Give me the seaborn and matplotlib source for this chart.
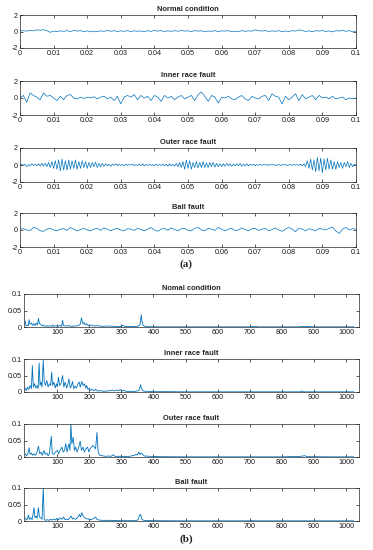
import numpy as np
import pandas as pd
import seaborn as sns
from matplotlib import pyplot as plt

sns.set_style("ticks")
plt.rcParams['font.family'] = ['Liberation Sans', 'DejaVu Sans']

titles = ['Normal condition', 'Inner race fault', 'Outer race fault', 'Ball fault']
spec_titles = ['Nomal condition', 'Inner race fault', 'Outer race fault', 'Ball fault']

# time-domain signals (0.1 s windows)
normal_sig = [0.05, 0.1, 0.05, 0.12, 0.08, 0.2, 0.15, 0.22, 0.1, -0.1, 0.05,
              0.0, 0.08, 0.02, 0.1, 0.0, 0.12, 0.05, 0.1, -0.02, 0.08,
              -0.05, 0.05, 0.0, 0.08, 0.02, 0.12, 0.03, 0.1, 0.0, 0.08,
              0.02, 0.1, 0.0, 0.08, 0.03, 0.06, -0.02, 0.1, 0.02, 0.12,
              0.05, 0.1, 0.0, 0.08, 0.02, 0.1, 0.03, 0.12, 0.05, 0.08,
              0.0, 0.1, 0.05, 0.08, 0.0, 0.06, 0.02, 0.1, -0.02, 0.08,
              0.05, 0.1, -0.03, 0.05, 0.0, 0.1, 0.02, 0.08, 0.05, 0.2,
              0.1, 0.05, 0.12, 0.0, 0.08, 0.02, 0.1, -0.02, 0.06, 0.0,
              0.1, 0.05, 0.2, 0.12, 0.0, 0.08, -0.03, 0.1, 0.05, 0.12,
              0.0, 0.08, -0.05, 0.1, 0.05, 0.15, 0.02, 0.1, -0.05, 0.05]

inner_sig = [0.0, 0.3, -0.5, 0.6, 0.3, 0.1, -0.2, 0.6, 0.2, 0.3, 0.0,
             -0.3, 0.2, -0.2, 0.3, 0.4, 0.0, -0.1, 0.1, -0.05, 0.1,
             0.0, 0.15, -0.1, 0.1, 0.2, -0.1, 0.1, -0.3, 0.2, -0.7,
             0.1, 0.3, 0.1, 0.4, -0.2, 0.3, 0.0, 0.2, -0.3, 0.3,
             0.1, -0.4, 0.3, 0.0, 0.2, -0.2, 0.1, 0.3, -0.1, 0.1,
             0.3, -0.3, 0.4, 0.7, 0.2, -0.4, 0.3, 0.1, -0.6, 0.1,
             0.0, 0.2, -0.1, -0.2, 0.1, 0.3, -0.1, -0.3, 0.2, 0.0,
             -0.1, 0.2, 0.3, -0.3, 0.5, 0.2, 0.1, -0.7, 0.2, -0.2,
             0.1, 0.5, -0.3, 0.4, -0.1, 0.1, 0.3, -0.2, 0.3, 0.0,
             0.1, -0.1, 0.2, -0.1, 0.0, 0.1, -0.2, 0.0, -0.1, 0.0]

outer_sig = [0.0, 0.1, -0.05, 0.1, -0.2, 0.05, -0.1, 0.15, -0.05, 0.1, -0.1, 0.15, -0.1, 0.2, -0.15, 0.2, -0.2,
             0.3, -0.3, 0.4, -0.4, 0.5, -0.5, 0.6, -0.7, 0.7, -0.6, 0.5, -0.6, 0.6, -0.5, 0.5, -0.4, 0.6,
             -0.5, 0.4, -0.4, 0.5, -0.3, 0.4, -0.4, 0.3, -0.3, 0.3, -0.2, 0.35, -0.3, 0.2, -0.25, 0.2, -0.15,
             0.15, -0.1, 0.1, -0.15, 0.1, -0.05, 0.15, -0.1, 0.1, -0.05, 0.05, -0.1, 0.1, -0.05, 0.05, 0.0,
             0.1, -0.1, 0.05, -0.05, 0.1, -0.1, 0.15, -0.1, 0.05, -0.05, 0.1, -0.05, 0.05, -0.1, 0.1, -0.05,
             0.05, -0.05, 0.1, -0.1, 0.1, -0.15, 0.15, -0.1, 0.1, -0.15, 0.2, -0.2,
             0.3, -0.3, 0.4, -0.5, 0.6, -0.4, 0.5, -0.5, 0.3, -0.3, 0.4, -0.35, 0.3, -0.3, 0.4, -0.3,
             0.25, -0.3, 0.3, -0.2, 0.3, -0.25, 0.2, -0.2, 0.15, -0.2,
             0.15, -0.15, 0.2, -0.1, 0.15, -0.15, 0.1, -0.1, 0.15, -0.1, 0.2, -0.15, 0.1, -0.1, 0.15, -0.1,
             0.1, -0.05, 0.1, -0.1, 0.05, -0.05, 0.1, -0.05, 0.05, 0.0, 0.05, -0.05, 0.05, 0.0, 0.05, -0.05,
             0.0, 0.05, -0.05, 0.05, 0.0, 0.05, -0.05, 0.0, 0.05, -0.05, 0.05, 0.0, 0.05, -0.05, 0.1, -0.1,
             0.15, -0.2,
             0.5, -0.4, 0.7, -0.6, 0.6, -0.8, 0.9, -0.7, 0.8, -0.9, 0.7, -0.6, 0.8, -0.5, 0.6, -0.5,
             0.4, -0.5, 0.4, -0.3, 0.3, -0.4, 0.3, -0.2, 0.4, -0.3, 0.2, -0.2, 0.1, 0.0]

ball_sig = [0.1, 0.15, 0.0, -0.05, 0.3, 0.2, -0.1, -0.15, 0.1, 0.2, 0.0,
            -0.1, 0.1, 0.15, -0.05, 0.3, 0.1, -0.1, 0.05, 0.2, 0.0,
            -0.1, 0.1, 0.2, -0.05, 0.25, 0.1, -0.1, 0.1, 0.2, 0.0,
            -0.1, 0.15, 0.1, -0.05, 0.2, 0.05, -0.1, 0.1, 0.3, 0.0,
            -0.15, 0.1, 0.2, -0.05, 0.25, 0.05, -0.1, 0.15, 0.2, -0.05,
            -0.1, 0.2, 0.3, 0.0, -0.1, 0.2, 0.1, -0.05, 0.3, 0.1,
            -0.1, 0.1, 0.2, -0.1, 0.0, 0.25, 0.05, -0.1, 0.15, 0.2,
            -0.05, 0.1, 0.2, -0.1, 0.05, 0.25, 0.0, -0.15, 0.1, 0.3,
            0.1, -0.2, 0.2, 0.1, -0.1, 0.15, 0.05, -0.1, 0.2, 0.1,
            0.0, 0.2, 0.35, -0.1, -0.4, 0.1, 0.3, 0.0, 0.15, 0.1]

# spectra: (bin, amplitude)
normal_spec = [(1, 0.018), (3, 0.004), (7, 0.006), (10, 0.003), (13, 0.022), (16, 0.008), (20, 0.012),
               (24, 0.005), (27, 0.010), (31, 0.004), (35, 0.012), (39, 0.006), (42, 0.026), (45, 0.010),
               (49, 0.008), (53, 0.003), (57, 0.006), (62, 0.002), (67, 0.004), (72, 0.002), (78, 0.004),
               (84, 0.002), (86, 0.006), (90, 0.002), (96, 0.004), (102, 0.002), (108, 0.005), (114, 0.002),
               (117, 0.020), (120, 0.004), (128, 0.003), (136, 0.004), (145, 0.002), (155, 0.003), (165, 0.004),
               (172, 0.008), (176, 0.028), (180, 0.010), (184, 0.014), (188, 0.006), (192, 0.010), (197, 0.004),
               (205, 0.006), (215, 0.003), (225, 0.004), (240, 0.002), (260, 0.003), (280, 0.002), (300, 0.001),
               (304, 0.005), (310, 0.002), (330, 0.001), (350, 0.002), (358, 0.006), (362, 0.037), (364, 0.020),
               (368, 0.004), (380, 0.001), (420, 0.0005), (500, 0.0005), (600, 0.0005), (700, 0.0005),
               (720, 0.0025), (724, 0.0005), (760, 0.0005), (850, 0.0005), (886, 0.002), (890, 0.0005),
               (950, 0.0005), (1024, 0.0005)]

inner_spec = [(1, 0.012), (4, 0.004), (8, 0.015), (12, 0.008), (16, 0.02), (20, 0.01), (23, 0.08), (26, 0.015),
              (30, 0.025), (34, 0.012), (38, 0.02), (41, 0.01), (44, 0.088), (47, 0.02), (50, 0.03), (53, 0.015),
              (57, 0.096), (60, 0.03), (64, 0.02), (68, 0.035), (72, 0.015), (76, 0.025), (80, 0.02), (83, 0.06),
              (86, 0.02), (90, 0.03), (94, 0.012), (98, 0.025), (101, 0.015), (104, 0.045), (108, 0.02),
              (112, 0.025), (117, 0.05), (121, 0.015), (125, 0.03), (130, 0.012), (134, 0.025), (137, 0.04),
              (141, 0.012), (145, 0.02), (148, 0.032), (152, 0.01), (156, 0.018), (160, 0.012), (165, 0.025),
              (169, 0.03), (172, 0.015), (177, 0.032), (181, 0.02), (185, 0.025), (189, 0.012), (192, 0.02),
              (196, 0.008), (200, 0.012), (205, 0.005), (210, 0.008), (215, 0.004), (220, 0.008), (226, 0.003),
              (235, 0.004), (245, 0.002), (255, 0.003), (265, 0.004), (272, 0.006), (278, 0.003), (285, 0.006),
              (290, 0.004), (296, 0.007), (302, 0.003), (308, 0.005), (315, 0.002), (330, 0.002), (345, 0.002),
              (355, 0.005), (360, 0.022), (363, 0.01), (368, 0.003), (380, 0.002), (400, 0.001), (450, 0.001),
              (500, 0.0005), (600, 0.0005), (700, 0.0005), (800, 0.0005), (855, 0.0005), (862, 0.003),
              (868, 0.0005), (950, 0.0005), (1024, 0.0005)]

outer_spec = [(1, 0.01), (5, 0.003), (9, 0.01), (13, 0.028), (16, 0.008), (20, 0.012), (24, 0.005), (28, 0.01),
              (32, 0.005), (36, 0.01), (42, 0.033), (46, 0.01), (50, 0.015), (54, 0.005), (59, 0.02), (63, 0.008),
              (68, 0.012), (72, 0.004), (76, 0.01), (82, 0.063), (85, 0.01), (90, 0.008), (95, 0.015), (101, 0.02),
              (105, 0.01), (110, 0.022), (115, 0.03), (119, 0.015), (123, 0.02), (127, 0.04), (131, 0.015),
              (134, 0.03), (137, 0.04), (140, 0.02), (143, 0.1), (146, 0.04), (150, 0.06), (154, 0.02),
              (158, 0.03), (162, 0.015), (166, 0.025), (172, 0.048), (176, 0.02), (181, 0.03), (185, 0.015),
              (190, 0.025), (195, 0.03), (199, 0.015), (203, 0.025), (207, 0.03), (212, 0.035), (216, 0.03),
              (220, 0.025), (224, 0.074), (228, 0.015), (232, 0.006), (240, 0.004), (250, 0.002), (260, 0.003),
              (268, 0.002), (275, 0.007), (280, 0.002), (300, 0.002), (320, 0.001), (340, 0.005), (346, 0.008),
              (350, 0.006), (354, 0.015), (358, 0.007), (362, 0.012), (366, 0.008), (372, 0.003), (390, 0.002),
              (420, 0.001), (500, 0.0005), (600, 0.0005), (700, 0.0005), (800, 0.0005), (860, 0.002),
              (870, 0.004), (880, 0.001), (950, 0.0005), (1024, 0.0005)]

ball_spec = [(1, 0.008), (5, 0.003), (8, 0.008), (11, 0.018), (14, 0.005), (18, 0.01), (22, 0.004), (25, 0.02),
             (28, 0.04), (31, 0.01), (35, 0.015), (38, 0.008), (42, 0.04), (45, 0.012), (49, 0.01), (53, 0.005),
             (57, 0.1), (60, 0.005), (65, 0.002), (70, 0.004), (75, 0.002), (80, 0.005), (85, 0.003), (90, 0.006),
             (95, 0.003), (100, 0.008), (105, 0.004), (110, 0.01), (115, 0.005), (120, 0.012), (125, 0.004),
             (130, 0.006), (135, 0.004), (140, 0.01), (144, 0.015), (148, 0.006), (152, 0.008), (158, 0.005),
             (163, 0.01), (167, 0.015), (170, 0.02), (173, 0.012), (177, 0.025), (181, 0.015), (185, 0.01),
             (190, 0.008), (195, 0.006), (200, 0.005), (205, 0.004), (210, 0.006), (215, 0.008), (220, 0.012),
             (224, 0.005), (230, 0.003), (240, 0.002), (260, 0.002), (300, 0.001), (340, 0.001), (352, 0.003),
             (357, 0.018), (360, 0.02), (364, 0.005), (370, 0.002), (400, 0.001), (500, 0.0005), (700, 0.0005),
             (705, 0.0015), (710, 0.0005), (900, 0.0005), (1024, 0.0005)]

time_ticks = [0, 0.01, 0.02, 0.03, 0.04, 0.05, 0.06, 0.07, 0.08, 0.09, 0.1]
time_labels = ['0', '0.01', '0.02', '0.03', '0.04', '0.05', '0.06', '0.07', '0.08', '0.09', '0.1']
freq_ticks = [100, 200, 300, 400, 500, 600, 700, 800, 900, 1000]

blue = '#0072BD'
W, H = 373, 550
fig = plt.figure(figsize=(W / 100, H / 100), dpi=100)


def make_ax(left, right, top, bottom):
    ax = fig.add_axes([left / W, 1 - bottom / H, (right - left) / W, (bottom - top) / H])
    for s in ax.spines.values():
        s.set_linewidth(0.5)
        s.set_color('#262626')
    ax.tick_params(direction='in', length=2, width=0.5, top=True, right=True,
                   labelsize=5.2, pad=1.5, colors='#1a1a1a')
    return ax


def style_title(ax, txt):
    ax.set_title(txt, fontsize=5.4, fontweight='bold', pad=3)
    ax.set_xlabel('')
    ax.set_ylabel('')


top_boxes = [(15, 48), (81, 115), (148, 182), (213, 247)]
signals = [normal_sig, inner_sig, outer_sig, ball_sig]
for (y0, y1), sig, ttl in zip(top_boxes, signals, titles):
    ax = make_ax(20, 356, y0, y1)
    t = np.linspace(0, 0.1, len(sig))
    df = pd.DataFrame({'t': t, 'v': sig})
    sns.lineplot(data=df, x='t', y='v', ax=ax, color=blue, lw=0.5, sort=False)
    ax.set_xlim(0, 0.1)
    ax.set_ylim(-2, 2)
    ax.set_xticks(time_ticks)
    ax.set_xticklabels(time_labels)
    ax.set_yticks([-2, 0, 2])
    ax.set_yticklabels(['-2', '0', '2'])
    style_title(ax, ttl)

bot_boxes = [(294, 327), (359, 392), (424, 457), (488, 521)]
spectra = [normal_spec, inner_spec, outer_spec, ball_spec]
for (y0, y1), spec, ttl in zip(bot_boxes, spectra, spec_titles):
    ax = make_ax(24, 359, y0, y1)
    df = pd.DataFrame(spec, columns=['f', 'a'])
    sns.lineplot(data=df, x='f', y='a', ax=ax, color=blue, lw=0.6, sort=False)
    ax.set_xlim(-3, 1040)
    ax.set_ylim(0, 0.1)
    ax.set_xticks(freq_ticks)
    ax.set_yticks([0, 0.05, 0.1])
    ax.set_yticklabels(['0', '0.05', '0.1'])
    style_title(ax, ttl)

fig.text(0.5, 1 - 264 / H, '(a)', ha='center', va='center', fontsize=8,
         fontweight='bold', family=['Liberation Serif', 'DejaVu Serif'])
fig.text(0.5, 1 - 539 / H, '(b)', ha='center', va='center', fontsize=8,
         fontweight='bold', family=['Liberation Serif', 'DejaVu Serif'])

fig.savefig('out.png', dpi=100)
